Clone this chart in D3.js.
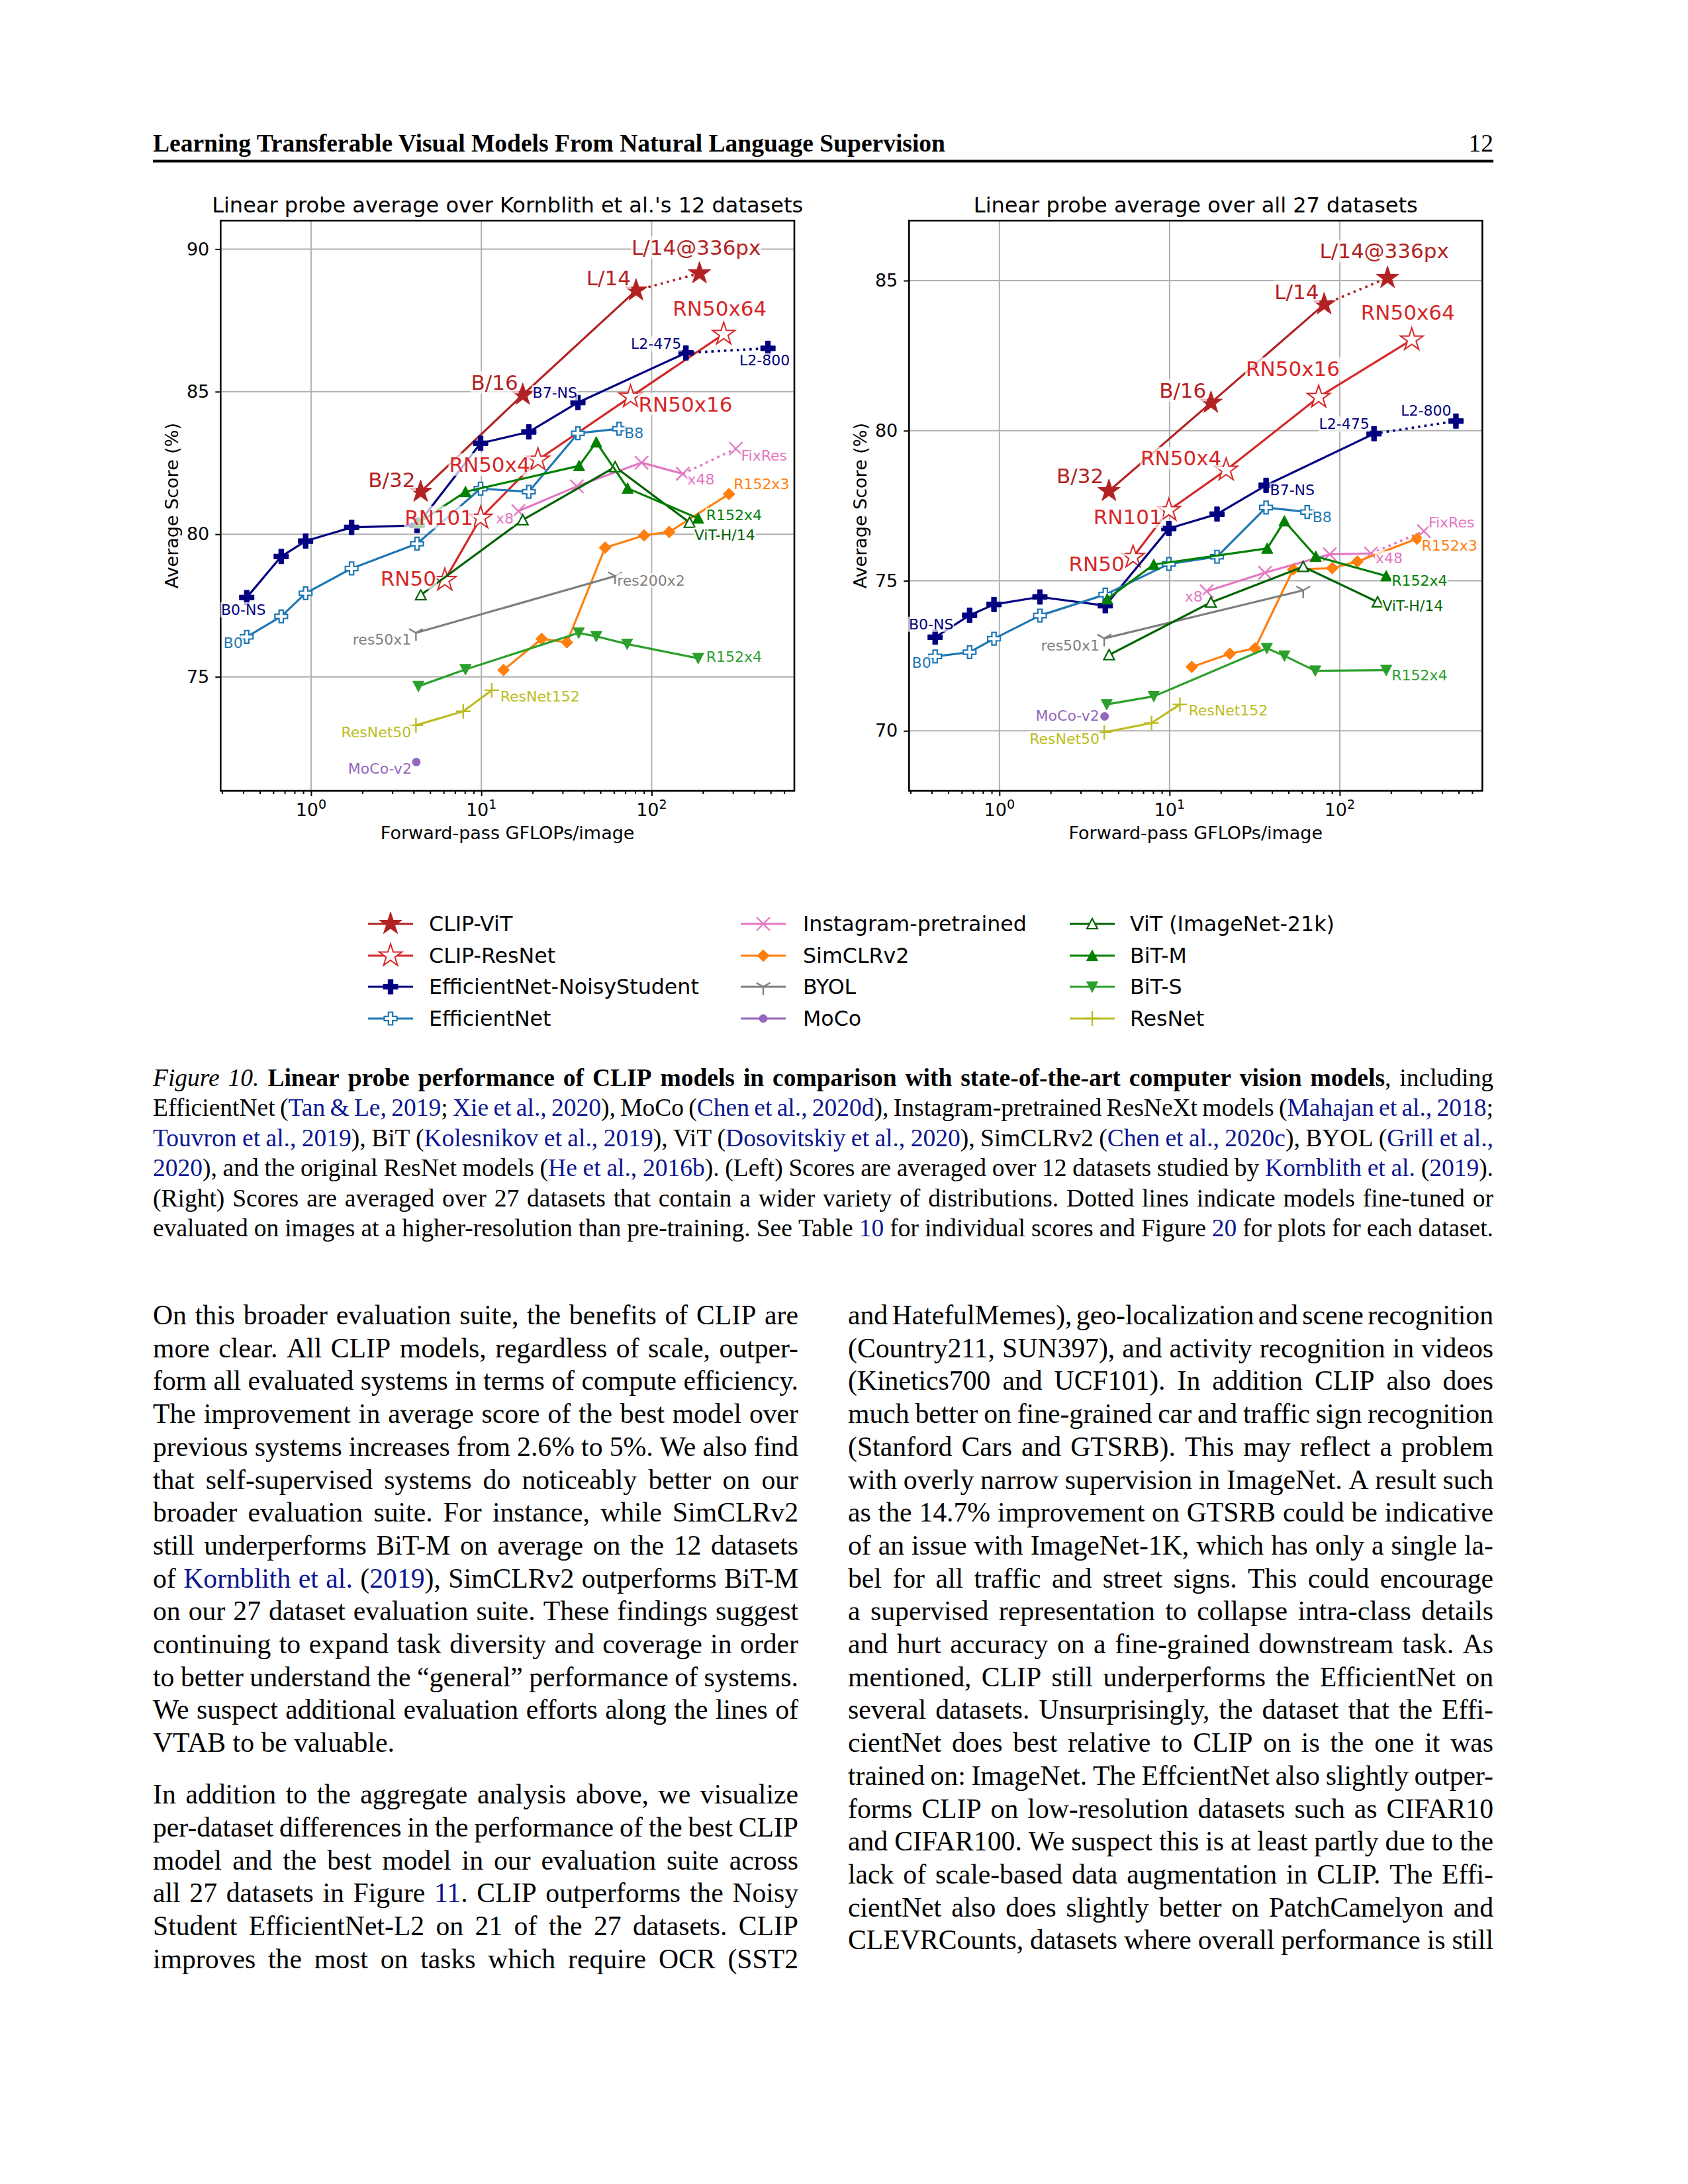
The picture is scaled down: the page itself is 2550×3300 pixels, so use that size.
<!DOCTYPE html>
<html><head><meta charset="utf-8">
<script src="https://cdn.jsdelivr.net/npm/d3@7"></script>
<style>html,body{margin:0;padding:0;background:#fff}svg{display:block}</style>
</head><body>
<svg id="page" width="2550" height="3300"></svg>
<script>
// ---------------- DATA ----------------
const seriesNames = ["CLIP-ViT","CLIP-ResNet","EfficientNet-NoisyStudent","EfficientNet",
  "Instagram-pretrained","SimCLRv2","BYOL","MoCo","ViT (ImageNet-21k)","BiT-M","BiT-S","ResNet"];

// forward-pass GFLOPs/image per model, per series
const gflops = [
  [4.4, 17.5, 81, 191],
  [6.1, 9.9, 21.5, 75.2, 265],
  [0.419, 0.668, 0.929, 1.73, 4.19, 9.9, 19.0, 36.9, 159, 482],
  [0.419, 0.668, 0.929, 1.73, 4.19, 9.9, 19.0, 36.9, 64.4],
  [16.5, 36.4, 87.3, 152.4, 312],
  [13.5, 22.6, 31.8, 53.3, 90.4, 126.8, 284.4],
  [4.13, 61],
  [4.15],
  [4.41, 17.5, 61, 167],
  [4.3, 8.07, 37.5, 47.3, 72.3, 187.6],
  [4.27, 8.07, 37.3, 47.3, 71.8, 187.6],
  [4.13, 7.83, 11.5]
];

// average score over Kornblith et al.'s 12 datasets
const score12 = [
  [81.49, 84.89, 88.55, 89.15],
  [78.39, 80.57, 82.61, 84.82, 87.02],
  [77.78, 79.22, 79.76, 80.24, 80.31, 83.19, 83.59, 84.62, 86.36, 86.52],
  [76.40, 77.12, 77.93, 78.80, 79.67, 81.60, 81.49, 83.54, 83.70],
  [80.81, 81.68, 82.51, 82.12, 83.00],
  [75.24, 76.33, 76.21, 79.53, 79.96, 80.08, 81.41],
  [76.54, 78.53],
  [72.01],
  [77.87, 80.50, 82.36, 80.41],
  [80.41, 81.49, 82.40, 83.23, 81.61, 80.56],
  [74.67, 75.26, 76.54, 76.42, 76.15, 75.65],
  [73.30, 73.79, 74.53]
];

// average score over all 27 datasets
const score27 = [
  [77.99, 80.93, 84.21, 85.09],
  [75.79, 77.35, 78.69, 81.12, 83.03],
  [73.12, 73.85, 74.21, 74.46, 74.17, 76.74, 77.22, 78.18, 79.90, 80.32],
  [72.48, 72.62, 73.07, 73.84, 74.54, 75.56, 75.80, 77.44, 77.29],
  [74.65, 75.27, 75.88, 75.91, 76.65],
  [72.13, 72.57, 72.75, 75.38, 75.42, 75.64, 76.40],
  [73.08, 74.68],
  [70.48],
  [72.53, 74.28, 75.47, 74.29],
  [74.39, 75.54, 76.08, 76.99, 75.81, 75.16],
  [70.88, 71.15, 72.75, 72.50, 72.00, 72.02],
  [69.95, 70.26, 70.88]
];

// series whose last step is a higher-resolution fine-tune (dotted)
const hiResLast = [true,false,true,false,true,false,false,false,false,false,false,false];

const yTicks12 = [75, 80, 85, 90];
const yTicks27 = [70, 75, 80, 85];
const xMajorTicks = [1, 10, 100];
const xTickExp = ["0", "1", "2"];

// point labels: [series, point index, text]
const labelText12 = [
  [0,0,"B/32"],[0,1,"B/16"],[0,2,"L/14"],[0,3,"L/14@336px"],
  [1,0,"RN50"],[1,1,"RN101"],[1,2,"RN50x4"],[1,3,"RN50x16"],[1,4,"RN50x64"],
  [2,0,"B0-NS"],[2,7,"B7-NS"],[2,8,"L2-475"],[2,9,"L2-800"],
  [3,0,"B0"],[3,8,"B8"],
  [4,0,"x8"],[4,3,"x48"],[4,4,"FixRes"],
  [5,6,"R152x3"],
  [6,0,"res50x1"],[6,1,"res200x2"],
  [7,0,"MoCo-v2"],
  [8,3,"ViT-H/14"],
  [9,5,"R152x4"],
  [10,5,"R152x4"],
  [11,0,"ResNet50"],[11,2,"ResNet152"]
];
const labelText27 = [
  [0,0,"B/32"],[0,1,"B/16"],[0,2,"L/14"],[0,3,"L/14@336px"],
  [1,0,"RN50"],[1,1,"RN101"],[1,2,"RN50x4"],[1,3,"RN50x16"],[1,4,"RN50x64"],
  [2,0,"B0-NS"],[2,7,"B7-NS"],[2,8,"L2-475"],[2,9,"L2-800"],
  [3,0,"B0"],[3,8,"B8"],
  [4,0,"x8"],[4,3,"x48"],[4,4,"FixRes"],
  [5,6,"R152x3"],
  [6,0,"res50x1"],
  [7,0,"MoCo-v2"],
  [8,3,"ViT-H/14"],
  [9,5,"R152x4"],
  [10,5,"R152x4"],
  [11,0,"ResNet50"],[11,2,"ResNet152"]
];

// ---------------- STYLE / LAYOUT ----------------
const seriesStyle = [
  {c:"#b22222", m:"star",  s:18,  fill:"c", sw:1},
  {c:"#d62728", m:"star",  s:18,  fill:"w", sw:2},
  {c:"#000080", m:"plus",  s:11,  fill:"c", sw:1},
  {c:"#1f77b4", m:"plus",  s:9.5, fill:"w", sw:2.2},
  {c:"#e377c2", m:"x",     s:10,  fill:"n", sw:2.4},
  {c:"#ff7f0e", m:"diam",  s:9,   fill:"c", sw:1},
  {c:"#7f7f7f", m:"tri1",  s:12,  fill:"n", sw:2.4},
  {c:"#9467bd", m:"circ",  s:6,   fill:"c", sw:1},
  {c:"#006400", m:"triU",  s:8,   fill:"w", sw:2.2},
  {c:"#008000", m:"triU",  s:8.5, fill:"c", sw:1},
  {c:"#2ca02c", m:"triD",  s:8.5, fill:"c", sw:1},
  {c:"#bcbd22", m:"cross", s:11,  fill:"n", sw:2.4}
];
// label placement offsets (px): [anchor, dx, dy]
const labelPos12 = [
  ["end",-8,-7],["end",-7,-8],["end",-8,-8],["middle",-5,-28],
  ["end",-13,8],["end",-11,10],["end",-12,18],["start",12,22],["middle",-6,-28],
  ["middle",-5,26],["end",-1,-7],["end",-7,-6],["middle",-5,26],
  ["end",-6,17],["start",8,14],
  ["end",-7,19],["start",7,16],["start",8,18],
  ["start",7,-7],
  ["end",-7,18],["start",3,14],
  ["end",-7,18],
  ["start",7,26],
  ["start",12,3],
  ["start",12,5],
  ["end",-7,18],["start",13,17]
];
const labelPos27 = [
  ["end",-8,-12],["end",-7,-8],["end",-8,-8],["middle",-5,-30],
  ["end",-13,21],["end",-10,21],["end",-7,-7],["middle",-39,-32],["middle",-6,-30],
  ["middle",-6,-12],["start",6,15],["end",-7,-7],["end",-7,-8],
  ["end",-6,17],["start",8,15],
  ["end",-6,16],["start",7,15],["start",7,-6],
  ["start",7,18],
  ["end",-7,18],
  ["end",-8,6],
  ["start",7,13],
  ["start",8,15],
  ["start",8,15],
  ["end",-7,17],["start",13,17]
];

const SANS = "'DejaVu Sans', sans-serif";
const SERIF = "'Liberation Serif','Times New Roman',serif";
const LINK = "#0c1590";

const svg = d3.select("#page");
svg.append("rect").attr("width",2550).attr("height",3300).attr("fill","#fff");

function markerPath(m, s){
  if(m==="star"){
    const r = s*0.381966; let p="";
    for(let k=0;k<10;k++){
      const a = -Math.PI/2 + k*Math.PI/5, rr = k%2?r:s;
      p += (k?"L":"M") + (rr*Math.cos(a)).toFixed(2) + "," + (rr*Math.sin(a)).toFixed(2);
    }
    return p+"Z";
  }
  if(m==="plus"){
    const h=s, a=s/3;
    const v=[[-a,-h],[a,-h],[a,-a],[h,-a],[h,a],[a,a],[a,h],[-a,h],[-a,a],[-h,a],[-h,-a],[-a,-a]];
    return "M"+v.map(q=>q.join(",")).join("L")+"Z";
  }
  if(m==="x") return `M${-s},${-s}L${s},${s}M${-s},${s}L${s},${-s}`;
  if(m==="diam") return `M0,${-s}L${s},0L0,${s}L${-s},0Z`;
  if(m==="tri1") return `M0,0L0,${s}M0,0L${-0.866*s},${-0.5*s}M0,0L${0.866*s},${-0.5*s}`;
  if(m==="circ") return `M${s},0A${s},${s} 0 1 1 ${-s},0A${s},${s} 0 1 1 ${s},0Z`;
  if(m==="triU") return `M0,${-s}L${s},${s*0.9}L${-s},${s*0.9}Z`;
  if(m==="triD") return `M0,${s}L${s},${-s*0.9}L${-s},${-s*0.9}Z`;
  if(m==="cross") return `M${-s},0L${s},0M0,${-s}L0,${s}`;
}
function drawMarker(g, st, x, y){
  g.append("path").attr("d", markerPath(st.m, st.s))
    .attr("transform",`translate(${x},${y})`)
    .attr("fill", st.fill==="c"?st.c:(st.fill==="w"?"#fff":"none"))
    .attr("stroke", st.c).attr("stroke-width", st.sw)
    .attr("stroke-linejoin","miter");
}

const xDomain = [Math.pow(10,-0.531), Math.pow(10,2.838)];
const xMinor = [];
for(let e=-1;e<=2;e++) for(let k=2;k<=9;k++){const v=k*Math.pow(10,e); if(v>=xDomain[0]&&v<=xDomain[1]) xMinor.push(v);}

function drawPanel(cfg){
  const x = d3.scaleLog().domain(xDomain).range([cfg.x0,cfg.x1]);
  const y = d3.scaleLinear().domain(cfg.yDomain).range([cfg.y1,cfg.y0]);
  const g = svg.append("g");
  // grid
  g.selectAll(null).data(xMajorTicks).join("line")
    .attr("x1",d=>x(d)).attr("x2",d=>x(d)).attr("y1",cfg.y0).attr("y2",cfg.y1)
    .attr("stroke","#b0b0b0").attr("stroke-width",2);
  g.selectAll(null).data(cfg.yTicks).join("line")
    .attr("x1",cfg.x0).attr("x2",cfg.x1).attr("y1",d=>y(d)).attr("y2",d=>y(d))
    .attr("stroke","#b0b0b0").attr("stroke-width",2);
  // series
  const line = d3.line();
  seriesNames.forEach((name,si)=>{
    const st = seriesStyle[si];
    const pts = gflops[si].map((gx,i)=>[x(gx), y(cfg.scores[si][i])]);
    const cut = hiResLast[si] ? pts.length-1 : pts.length;
    if(cut>1) g.append("path").attr("d", line(pts.slice(0,cut))).attr("fill","none")
      .attr("stroke",st.c).attr("stroke-width",3.2).attr("stroke-linejoin","round");
    if(hiResLast[si]) g.append("path").attr("d", line(pts.slice(cut-1))).attr("fill","none")
      .attr("stroke",st.c).attr("stroke-width",3.6).attr("stroke-dasharray","3.6,6");
    pts.forEach(p=>drawMarker(g, st, p[0], p[1]));
  });
  // axes
  const ax = g.append("g").attr("transform",`translate(0,${cfg.y1})`)
    .call(d3.axisBottom(x).tickValues(xMajorTicks).tickSize(8).tickFormat(""));
  const axm = g.append("g").attr("transform",`translate(0,${cfg.y1})`)
    .call(d3.axisBottom(x).tickValues(xMinor).tickSize(5).tickFormat(""));
  const ay = g.append("g").attr("transform",`translate(${cfg.x0},0)`)
    .call(d3.axisLeft(y).tickValues(cfg.yTicks).tickSize(8).tickPadding(9).tickFormat(d3.format("d")));
  [ax,axm,ay].forEach(a=>{a.select(".domain").remove(); a.selectAll(".tick line").attr("stroke","#000").attr("stroke-width",2);});
  ay.selectAll("text").attr("font-family",SANS).attr("font-size",27).attr("fill","#000");
  xMajorTicks.forEach((v,i)=>{
    const t = g.append("text").attr("x",x(v)).attr("y",cfg.y1+38).attr("text-anchor","middle")
      .attr("font-family",SANS).attr("font-size",27).attr("fill","#000");
    t.append("tspan").text("10");
    t.append("tspan").attr("font-size",19).attr("dy",-11).text(xTickExp[i]);
  });
  g.append("rect").attr("x",cfg.x0).attr("y",cfg.y0).attr("width",cfg.x1-cfg.x0).attr("height",cfg.y1-cfg.y0)
    .attr("fill","none").attr("stroke","#000").attr("stroke-width",2.6);
  // titles
  g.append("text").attr("x",(cfg.x0+cfg.x1)/2).attr("y",320.7).attr("text-anchor","middle")
    .attr("font-family",SANS).attr("font-size",32).text(cfg.title);
  g.append("text").attr("x",(cfg.x0+cfg.x1)/2).attr("y",1268).attr("text-anchor","middle")
    .attr("font-family",SANS).attr("font-size",27).text("Forward-pass GFLOPs/image");
  g.append("text").attr("transform",`translate(${cfg.x0-64},${(cfg.y0+cfg.y1)/2}) rotate(-90)`)
    .attr("text-anchor","middle").attr("font-family",SANS).attr("font-size",27).text("Average Score (%)");
  // labels
  const lg = g.append("g");
  cfg.labels.forEach((L,k)=>{
    const [si,i,txt] = L, [anc,dx,dy] = cfg.labelPos[k];
    const big = si<2;
    const px = x(gflops[si][i])+dx, py = y(cfg.scores[si][i])+dy;
    const t = lg.append("text").attr("x",px).attr("y",py).attr("text-anchor",anc)
      .attr("font-family",SANS).attr("font-size",big?31:22).attr("fill",seriesStyle[si].c).text(txt);
    const b = t.node().getBBox();
    lg.insert("rect", () => t.node()).attr("x",b.x-1).attr("y",b.y+1).attr("width",b.width+2).attr("height",b.height-2)
      .attr("fill","#fff").attr("fill-opacity",0.7);
  });
}

drawPanel({x0:333.3,x1:1200,y0:333.3,y1:1195,yDomain:[71,91],yTicks:yTicks12,
  title:"Linear probe average over Kornblith et al.'s 12 datasets",scores:score12,labels:labelText12,labelPos:labelPos12});
drawPanel({x0:1373.3,x1:2239.3,y0:333.3,y1:1195,yDomain:[68,87],yTicks:yTicks27,
  title:"Linear probe average over all 27 datasets",scores:score27,labels:labelText27,labelPos:labelPos27});

// legend
const legCols = [590,1153,1650], legText=[648,1213,1707], legRows=[1396,1444,1491,1539];
const leg = svg.append("g");
seriesNames.forEach((n,si)=>{
  const c = Math.floor(si/4), r = si%4, cx = legCols[c], cy = legRows[r], st = seriesStyle[si];
  leg.append("line").attr("x1",cx-34).attr("x2",cx+34).attr("y1",cy).attr("y2",cy).attr("stroke",st.c).attr("stroke-width",3.2);
  drawMarker(leg, st, cx, cy);
  leg.append("text").attr("x",legText[c]).attr("y",cy+11).attr("font-family",SANS).attr("font-size",31.7).text(n);
});

// ---------------- PAGE TEXT ----------------
function tokenize(segs){
  const words=[]; let cur=[];
  segs.forEach(([t,s])=>{
    t.split(" ").forEach((p,k)=>{
      if(k>0){ if(cur.length) words.push(cur); cur=[]; }
      if(p.length) cur.push([p,s]);
    });
  });
  if(cur.length) words.push(cur);
  return words;
}
function textLine(x, y, width, segs, size, justify){
  const g = svg.append("g").attr("font-family",SERIF).attr("font-size",size);
  const words = tokenize(segs);
  const nodes = words.map(w=>{
    const t = g.append("text").attr("y",y);
    w.forEach(([txt,s])=>{
      const ts = t.append("tspan").text(txt).attr("fill", s==="l"?LINK:"#000");
      if(s==="b") ts.attr("font-weight","bold");
      if(s==="i") ts.attr("font-style","italic");
    });
    return {t, w:t.node().getComputedTextLength()};
  });
  const total = d3.sum(nodes,d=>d.w);
  const gap = (justify && nodes.length>1) ? (width-total)/(nodes.length-1) : size*0.25;
  let cx = x;
  nodes.forEach(n=>{ n.t.attr("x",cx); cx += n.w + gap; });
}

// header
svg.append("text").attr("x",231).attr("y",229).attr("font-family",SERIF).attr("font-weight","bold")
  .attr("font-size",37.5).text("Learning Transferable Visual Models From Natural Language Supervision");
svg.append("text").attr("x",2256).attr("y",229).attr("text-anchor","end").attr("font-family",SERIF)
  .attr("font-size",37.5).text("12");
svg.append("rect").attr("x",231).attr("y",241.5).attr("width",2025).attr("height",4).attr("fill","#000");

const captionLines = [
  [["Figure 10.","i"],[" ","n"],["Linear probe performance of CLIP models in comparison with state-of-the-art computer vision models","b"],[", including","n"]],
  [["EfficientNet (","n"],["Tan & Le, 2019","l"],["; ","n"],["Xie et al., 2020","l"],["), MoCo (","n"],["Chen et al., 2020d","l"],["), Instagram-pretrained ResNeXt models (","n"],["Mahajan et al., 2018","l"],[";","n"]],
  [["Touvron et al., 2019","l"],["), BiT (","n"],["Kolesnikov et al., 2019","l"],["), ViT (","n"],["Dosovitskiy et al., 2020","l"],["), SimCLRv2 (","n"],["Chen et al., 2020c","l"],["), BYOL (","n"],["Grill et al.,","l"]],
  [["2020","l"],["), and the original ResNet models (","n"],["He et al., 2016b","l"],["). (Left) Scores are averaged over 12 datasets studied by ","n"],["Kornblith et al.","l"],[" (","n"],["2019","l"],[").","n"]],
  [["(Right) Scores are averaged over 27 datasets that contain a wider variety of distributions. Dotted lines indicate models fine-tuned or","n"]],
  [["evaluated on images at a higher-resolution than pre-training. See Table ","n"],["10","l"],[" for individual scores and Figure ","n"],["20","l"],[" for plots for each dataset.","n"]]
];
captionLines.forEach((l,i)=>textLine(231, 1641+i*45.4, 2025, l, 37.5, true));

const leftPara1 = [
  "On this broader evaluation suite, the benefits of CLIP are",
  "more clear.  All CLIP models, regardless of scale, outper-",
  "form all evaluated systems in terms of compute efficiency.",
  "The improvement in average score of the best model over",
  "previous systems increases from 2.6% to 5%. We also find",
  "that self-supervised systems do noticeably better on our",
  "broader evaluation suite. For instance, while SimCLRv2",
  "still underperforms BiT-M on average on the 12 datasets",
  null,
  "on our 27 dataset evaluation suite. These findings suggest",
  "continuing to expand task diversity and coverage in order",
  "to better understand the \u201cgeneral\u201d performance of systems.",
  "We suspect additional evaluation efforts along the lines of",
  "VTAB to be valuable."
];
const leftPara2 = [
  "In addition to the aggregate analysis above, we visualize",
  "per-dataset differences in the performance of the best CLIP",
  "model and the best model in our evaluation suite across",
  null,
  "Student EfficientNet-L2 on 21 of the 27 datasets.  CLIP",
  "improves the most on tasks which require OCR (SST2"
];
const rightCol = [
  "and HatefulMemes), geo-localization and scene recognition",
  "(Country211, SUN397), and activity recognition in videos",
  "(Kinetics700 and UCF101).  In addition CLIP also does",
  "much better on fine-grained car and traffic sign recognition",
  "(Stanford Cars and GTSRB). This may reflect a problem",
  "with overly narrow supervision in ImageNet. A result such",
  "as the 14.7% improvement on GTSRB could be indicative",
  "of an issue with ImageNet-1K, which has only a single la-",
  "bel for all traffic and street signs.  This could encourage",
  "a supervised representation to collapse intra-class details",
  "and hurt accuracy on a fine-grained downstream task.  As",
  "mentioned, CLIP still underperforms the EfficientNet on",
  "several datasets. Unsurprisingly, the dataset that the Effi-",
  "cientNet does best relative to CLIP on is the one it was",
  "trained on: ImageNet. The EffcientNet also slightly outper-",
  "forms CLIP on low-resolution datasets such as CIFAR10",
  "and CIFAR100. We suspect this is at least partly due to the",
  "lack of scale-based data augmentation in CLIP. The Effi-",
  "cientNet also does slightly better on PatchCamelyon and",
  "CLEVRCounts, datasets where overall performance is still"
];
const specialL1 = [["of ","n"],["Kornblith et al.","l"],[" (","n"],["2019","l"],["), SimCLRv2 outperforms BiT-M","n"]];
const specialL2 = [["all 27 datasets in Figure ","n"],["11","l"],[". CLIP outperforms the Noisy","n"]];
const LS = 49.7, BODY = 41.7, Y0 = 2001;
leftPara1.forEach((l,i)=>textLine(231, Y0+i*LS, 975, l===null?specialL1:[[l,"n"]], BODY, i<leftPara1.length-1));
const Y2 = Y0 + (leftPara1.length-1)*LS + 78;
leftPara2.forEach((l,i)=>textLine(231, Y2+i*LS, 975, l===null?specialL2:[[l,"n"]], BODY, true));
rightCol.forEach((l,i)=>textLine(1281, Y0+i*LS, 975, [[l,"n"]], BODY, true));
</script>
</body></html>
